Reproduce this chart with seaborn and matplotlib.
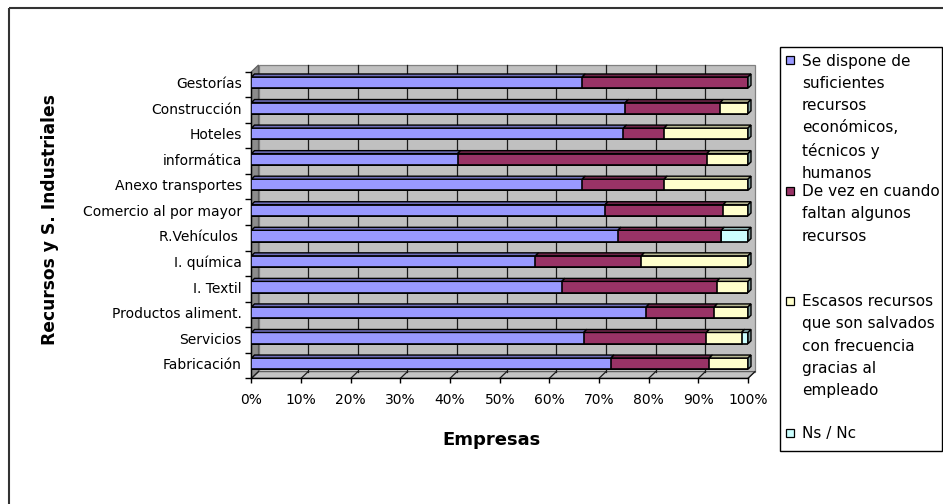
import numpy as np
import pandas as pd
import matplotlib
matplotlib.use("Agg")
import matplotlib.pyplot as plt
import matplotlib.colors as mcolors
from matplotlib.patches import Polygon, Rectangle
from matplotlib.lines import Line2D
from matplotlib.transforms import Affine2D
import seaborn as sns

# ---- data (percent of companies per sector) ----
sectores = ["Gestorías", "Construcción", "Hoteles", "informática",
            "Anexo transportes", "Comercio al por mayor", "R.Vehículos ",
            "I. química", "I. Textil", "Productos aliment.", "Servicios",
            "Fabricación"]
suficientes = [66.6, 75.3, 74.9, 41.5, 66.6, 71.2, 73.8, 57.2, 62.5, 79.5, 66.9, 72.4]
a_veces     = [33.4, 19.1,  8.2, 50.2, 16.5, 23.8, 20.8, 21.3, 31.2, 13.7, 24.7, 19.8]
escasos     = [ 0.0,  5.6, 16.9,  8.3, 16.9,  5.0,  0.0, 21.5,  6.3,  6.8,  7.1,  7.8]
ns_nc       = [ 0.0,  0.0,  0.0,  0.0,  0.0,  0.0,  5.4,  0.0,  0.0,  0.0,  1.3,  0.0]

series_labels = [
    "Se dispone de\nsuficientes\nrecursos\neconómicos,\ntécnicos y\nhumanos",
    "De vez en cuando\nfaltan algunos\nrecursos",
    "Escasos recursos\nque son salvados\ncon frecuencia\ngracias al\nempleado",
    "Ns / Nc",
]
series_colors = ["#9999FF", "#993366", "#FFFFCC", "#CCFFFF"]
xtick_values = list(range(0, 101, 10))
xtick_labels = [f"{v}%" for v in xtick_values]

# ---- figure geometry (pixels) ----
W, H = 943, 504
X0, X1 = 251.5, 748.0          # 0% and 100% on the front plane
YT, YB = 71.7, 378.3           # top / bottom of the category axis
DEPTH = (7.0, 6.7)             # oblique depth of walls and floor
BAR_DEPTH = (3.0, 3.0)         # depth of each bar

plt.rcParams["font.family"] = ["DejaVu Sans"]
fig = plt.figure(figsize=(W / 100, H / 100), dpi=100)
fig.patch.set_facecolor("white")
PIX = Affine2D().scale(1 / W, -1 / H).translate(0, 1) + fig.transFigure

ax = fig.add_axes([X0 / W, 1 - YB / H, (X1 - X0) / W, (YB - YT) / H])
ax.patch.set_visible(False)

df = pd.DataFrame({"sector": sectores, "suficientes": suficientes,
                   "a_veces": a_veces, "escasos": escasos, "ns_nc": ns_nc})
stack = np.cumsum(df[["suficientes", "a_veces", "escasos", "ns_nc"]].to_numpy().T, axis=0)

# stacked bars: cumulative totals, largest drawn first
layer_patches = {}
for k in reversed(range(4)):
    n0 = len(ax.patches)
    sns.barplot(x=stack[k], y=df["sector"], order=sectores, orient="h",
                color=series_colors[k], saturation=1, width=0.44,
                edgecolor="black", linewidth=1.2, errorbar=None, ax=ax, zorder=3)
    layer_patches[k] = ax.patches[n0:]

n = len(sectores)
y_top = -0.427                 # category band boundary above the first bar
y_bot = y_top + n
ax.set_xlim(0, 100)
ax.set_ylim(y_bot, y_top)

# data units per pixel
ux = 100 / (X1 - X0)
uy = (y_bot - y_top) / (YB - YT)
dX, dY = DEPTH[0] * ux, DEPTH[1] * uy
bX, bY = BAR_DEPTH[0] * ux, BAR_DEPTH[1] * uy

# ---- 3-D box: back wall, side wall, floor ----
wall_kw = dict(clip_on=False, zorder=0.5, linewidth=0.9)
ax.add_patch(Polygon([(dX, y_top - dY), (100 + dX, y_top - dY),
                      (100 + dX, y_bot - dY), (dX, y_bot - dY)],
                     facecolor="#C0C0C0", edgecolor="#808080", **wall_kw))
ax.add_patch(Polygon([(0, y_top), (dX, y_top - dY), (dX, y_bot - dY), (0, y_bot)],
                     facecolor="#8C8C8C", edgecolor="#606060", **wall_kw))
ax.add_patch(Polygon([(0, y_bot), (100, y_bot), (100 + dX, y_bot - dY), (dX, y_bot - dY)],
                     facecolor="#C4C4C4", edgecolor="#606060", **wall_kw))
for v in xtick_values[1:-1]:
    ax.add_line(Line2D([v + dX, v + dX], [y_top - dY, y_bot - dY], color="#1a1a1a",
                       linewidth=0.9, clip_on=False, zorder=0.8))
for v in xtick_values:
    ax.add_line(Line2D([v, v + dX], [y_bot, y_bot - dY], color="#1a1a1a",
                       linewidth=0.9, clip_on=False, zorder=0.8))

# ---- top faces and end caps of the bars ----
def shade(c, f=0.72):
    r, g, b = mcolors.to_rgb(c)
    return (r * f, g * f, b * f)

for i in range(n):
    for k in range(4):
        p = layer_patches[k][i]
        left = 0.0 if k == 0 else layer_patches[k - 1][i].get_width()
        right = p.get_width()
        if right - left <= 0:
            continue
        y0 = p.get_y()
        ax.add_patch(Polygon([(left, y0), (right, y0), (right + bX, y0 - bY), (left + bX, y0 - bY)],
                             facecolor=shade(series_colors[k]), edgecolor="black",
                             linewidth=1.0, zorder=3.1, clip_on=False))
    p = layer_patches[3][i]
    x_end, y0, h = p.get_width(), p.get_y(), p.get_height()
    ax.add_patch(Polygon([(x_end, y0), (x_end, y0 + h), (x_end + bX, y0 + h - bY), (x_end + bX, y0 - bY)],
                         facecolor=shade(series_colors[3], 0.6), edgecolor="black",
                         linewidth=1.0, zorder=3.1, clip_on=False))

# ---- axes ----
for s in ("top", "right"):
    ax.spines[s].set_visible(False)
for s in ("left", "bottom"):
    ax.spines[s].set_color("black")
    ax.spines[s].set_linewidth(1.0)
ax.set_xticks(xtick_values)
ax.set_xticklabels(xtick_labels)
ax.set_yticks(range(n))
ax.set_yticklabels(sectores)
ax.set_yticks([y_top + k for k in range(n + 1)], minor=True)
ax.tick_params(axis="x", length=3.6, width=1, pad=7, labelsize=10, colors="black")
ax.tick_params(axis="y", which="major", length=0, pad=7, labelsize=10)
ax.tick_params(axis="y", which="minor", length=4.3, width=1, direction="out")
ax.set_xlabel("")
ax.set_ylabel("")

fig.text(492 / W, 1 - 440 / H, "Empresas", ha="center", va="center",
         fontsize=13, fontweight="bold")
fig.text(50 / W, 1 - 220 / H, "Recursos y S. Industriales", ha="center", va="center",
         rotation=90, fontsize=12.3, fontweight="bold")

# ---- outer frame ----
fig.add_artist(Rectangle((9, 8), 1000, 1000, transform=PIX, fill=False,
                         edgecolor="#333333", linewidth=1.5))

# ---- legend ----
fig.add_artist(Rectangle((780, 47), 162, 404, transform=PIX, facecolor="white",
                         edgecolor="black", linewidth=1.0))
entry_centers = [60.0, 190.5, 300.5, 432.5]
for lab, col, yc in zip(series_labels, series_colors, entry_centers):
    fig.add_artist(Rectangle((786, yc - 4), 8, 8, transform=PIX, facecolor=col,
                             edgecolor="black", linewidth=0.9))
    fig.text(802 / W, 1 - (yc - 6.1) / H, lab, ha="left", va="top",
             fontsize=11, linespacing=1.59)

fig.savefig("out.png", dpi=100)
